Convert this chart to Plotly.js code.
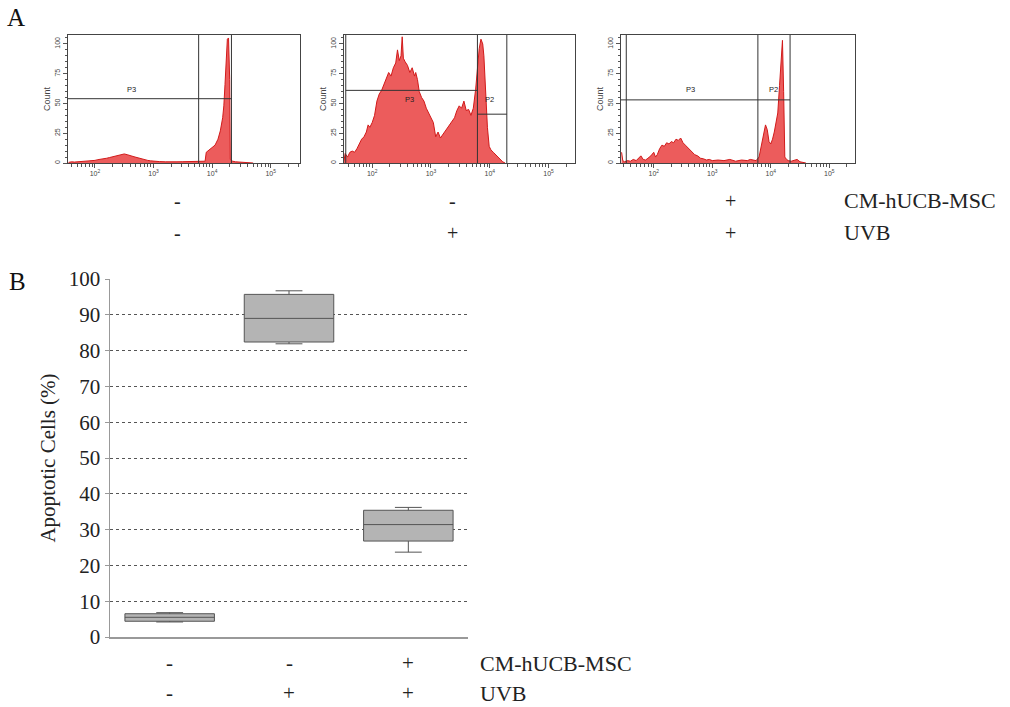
<!DOCTYPE html>
<html>
<head>
<meta charset="utf-8">
<script src="https://cdn.plot.ly/plotly-3.0.1.min.js"></script>
<style>html,body{margin:0;padding:0;background:#fff;}#chart{width:1010px;height:707px;}</style>
</head>
<body>
<div id="chart"></div>
<script>
// ---------- Panel A: flow-cytometry histograms (x = log10 fluorescence, y = count) ----------
const hist1X = [1.55,1.6,1.65,1.7,1.75,1.8,1.85,1.9,1.95,2.0,2.05,2.1,2.15,2.2,2.25,2.3,2.35,2.4,2.45,2.5,2.55,2.6,2.65,2.7,2.75,2.8,2.85,2.9,2.95,3.0,3.1,3.2,3.3,3.4,3.5,3.6,3.7,3.8,3.88,3.9,3.95,4.0,4.05,4.1,4.14,4.18,4.2,4.22,4.24,4.26,4.28,4.3,4.31,4.35,4.4,4.5,4.6,4.7];
const hist1Y = [0.5,1,0.8,1,1.2,1,1.5,1.3,2,2.2,2.8,3,3.5,4,4.6,5.2,5.5,6,6.6,7.6,7,6.5,5.5,4.8,4,3.2,3,2.2,1.8,1.5,1.2,1,1.3,1,1.1,1.2,1,1.3,1.5,9,11,13,15,20,27,38,48,66,90,104,105,70,3,1.5,1,0.8,0.5,0];

const hist2X = [1.52,1.54,1.58,1.62,1.66,1.7,1.74,1.78,1.82,1.86,1.9,1.93,1.96,2.0,2.04,2.08,2.12,2.16,2.2,2.24,2.28,2.32,2.36,2.4,2.43,2.46,2.49,2.51,2.53,2.56,2.6,2.64,2.68,2.72,2.74,2.77,2.8,2.84,2.88,2.92,2.96,3.0,3.04,3.08,3.12,3.16,3.2,3.24,3.28,3.32,3.36,3.4,3.44,3.48,3.52,3.56,3.6,3.64,3.68,3.72,3.76,3.79,3.82,3.85,3.88,3.9,3.93,3.96,3.99,4.02,4.06,4.1,4.14,4.18,4.22,4.26];
const hist2Y = [2,8,5,9,10,9,12,16,20,22,26,32,30,34,40,52,58,61,66,70,76,73,80,84,95,86,90,106,88,85,82,76,80,73,76,70,60,55,52,46,42,37,34,22,26,21,24,27,29,32,36,38,44,48,46,52,44,45,40,46,62,80,96,104,100,90,55,30,14,11,9,7,5,3,1,0];

const hist3X = [1.45,1.47,1.5,1.55,1.6,1.65,1.7,1.75,1.78,1.82,1.86,1.9,1.95,2.0,2.03,2.06,2.1,2.14,2.18,2.22,2.26,2.3,2.34,2.38,2.42,2.46,2.5,2.54,2.58,2.62,2.66,2.7,2.75,2.8,2.85,2.9,2.95,3.0,3.1,3.2,3.3,3.35,3.4,3.5,3.6,3.65,3.7,3.75,3.8,3.84,3.88,3.91,3.94,3.97,4.0,4.03,4.06,4.09,4.12,4.15,4.18,4.2,4.22,4.24,4.27,4.3,4.35,4.4,4.45,4.5,4.55,4.6];
const hist3Y = [9,2,1,2,1.5,3,2,5,6,3,2.5,4,6,9,5,7,12,15,14,17,16,18,17,20,19,21,17,15,13,11,9,7,6,4,3.5,2.5,3,2,2.5,2,3,2,1.5,2.5,2,3,2.5,2,5,14,25,32,28,18,16,20,26,33,42,65,92,103,60,5,3,2,1.5,2,3,1,0.5,0];

const histDecades = [2, 3, 4, 5];
const histDecadeLabels = ['10<sup>2</sup>', '10<sup>3</sup>', '10<sup>4</sup>', '10<sup>5</sup>'];
const countTicks = [0, 25, 50, 75, 100];

// gates (log10 positions / counts) per panel
const gateP3Left  = [1.54, 1.55, 1.53];
const gateP3Right = [3.77, 3.79, 3.78];
const gateP2Right = [4.33, 4.29, 4.33];
const gateP3Level = [54, 61, 53];
const gateP2Level = [null, 41, 53];
const labelP3Pos  = [[2.62, 62], [2.64, 53], [2.62, 62]];
const labelP2Pos  = [null, [4.0, 53], [4.05, 62]];

// treatment labels
const treatmentNames = ['CM-hUCB-MSC', 'UVB'];
const cmLabels  = ['-', '-', '+'];
const uvbLabels = ['-', '+', '+'];

// ---------- Panel B: apoptotic cells box plot ----------
const groupPos   = [0, 1, 2];
const boxLower   = [4.2, 81.9, 23.7];
const boxQ1      = [4.4, 82.4, 26.8];
const boxMedian  = [5.5, 89.0, 31.4];
const boxQ3      = [6.5, 95.7, 35.4];
const boxUpper   = [6.8, 96.7, 36.2];
const yTickVals  = [0,10,20,30,40,50,60,70,80,90,100];

// ---------- build ----------
const W = 1010, H = 707;
const px = v => v / W;
const py = v => 1 - v / H;

const histX = [hist1X, hist2X, hist3X];
const histY = [hist1Y, hist2Y, hist3Y];
const histRanges = [[1.54, 5.5], [1.52, 5.45], [1.44, 5.44]];
const histDomains = [[68, 300], [344, 575], [621, 855]];

const minorVals = [];
for (let n = 1; n <= 5; n++) for (let k = 2; k <= 9; k++) minorVals.push(Math.log10(k) + n);

const data = [];
const layout = {
  width: W, height: H,
  margin: {l: 0, r: 0, t: 0, b: 0},
  paper_bgcolor: '#fff', plot_bgcolor: '#fff',
  showlegend: false,
  shapes: [], annotations: []
};

const sans = 'Liberation Sans, Arial, sans-serif';
const serif = 'Liberation Serif, Times New Roman, serif';
const ann = (o) => Object.assign({showarrow: false, xanchor: 'center', yanchor: 'middle'}, o);

for (let i = 0; i < 3; i++) {
  const sx = i === 0 ? '' : String(i + 1);
  const xa = 'x' + sx, ya = 'y' + sx;
  data.push({
    type: 'scatter', mode: 'lines', x: histX[i], y: histY[i],
    xaxis: xa, yaxis: ya, fill: 'tozeroy',
    fillcolor: 'rgb(236,92,92)', line: {color: '#d21a1a', width: 1},
    hoverinfo: 'skip'
  });
  layout['xaxis' + sx] = {
    domain: [px(histDomains[i][0]), px(histDomains[i][1])],
    range: histRanges[i], anchor: ya, showgrid: false, zeroline: false,
    showline: true, mirror: true, linecolor: '#444', linewidth: 1,
    tickmode: 'array', tickvals: histDecades, ticktext: histDecadeLabels,
    ticks: 'outside', ticklen: 4, tickcolor: '#555', tickwidth: 1,
    tickfont: {family: sans, size: 7, color: '#444'},
    minor: {tickmode: 'array', tickvals: minorVals, ticks: 'outside', ticklen: 2.5, tickcolor: '#555', tickwidth: 1}
  };
  layout['yaxis' + sx] = {
    domain: [py(163), py(35)], range: [0, 107.5], anchor: xa,
    showgrid: false, zeroline: false, showline: true, mirror: true,
    linecolor: '#444', linewidth: 1,
    tickmode: 'array', tickvals: countTicks, tickangle: -90,
    ticks: 'outside', ticklen: 4, tickcolor: '#555',
    tickfont: {family: sans, size: 7, color: '#444'},
    minor: {dtick: 5, ticks: 'outside', ticklen: 2, tickcolor: '#555'},
    title: {text: 'Count', font: {family: sans, size: 9, color: '#444'}, standoff: 2}
  };
  const lineStyle = {color: '#333', width: 1};
  const verts = [gateP3Right[i], gateP2Right[i]];
  if (i > 0) verts.push(gateP3Left[i]);
  verts.forEach(v => layout.shapes.push({type: 'line', xref: xa, yref: ya + ' domain', x0: v, x1: v, y0: 0, y1: 1, line: lineStyle}));
  if (i === 1) {
    layout.shapes.push({type: 'line', xref: xa, yref: ya, x0: gateP3Left[i], x1: gateP3Right[i], y0: gateP3Level[i], y1: gateP3Level[i], line: lineStyle});
    layout.shapes.push({type: 'line', xref: xa, yref: ya, x0: gateP3Right[i], x1: gateP2Right[i], y0: gateP2Level[i], y1: gateP2Level[i], line: lineStyle});
  } else {
    layout.shapes.push({type: 'line', xref: xa, yref: ya, x0: histRanges[i][0], x1: gateP2Right[i], y0: gateP3Level[i], y1: gateP3Level[i], line: lineStyle});
  }
  const labFont = {family: sans, size: 7.5, color: '#222'};
  layout.annotations.push(ann({xref: xa, yref: ya, x: labelP3Pos[i][0], y: labelP3Pos[i][1], text: 'P3', font: labFont}));
  if (labelP2Pos[i]) {
    layout.annotations.push(ann({xref: xa, yref: ya, x: labelP2Pos[i][0], y: labelP2Pos[i][1], text: 'P2', font: labFont}));
  }
  layout.annotations.push(ann({xref: xa + ' domain', yref: 'paper', x: 0.47, y: py(201), text: cmLabels[i], font: {family: serif, size: 20, color: '#222'}}));
  layout.annotations.push(ann({xref: xa + ' domain', yref: 'paper', x: 0.47, y: py(233), text: uvbLabels[i], font: {family: serif, size: 20, color: '#222'}}));
}
layout.annotations.push(ann({xref: 'paper', yref: 'paper', x: px(842), y: py(201), xanchor: 'left', text: treatmentNames[0], font: {family: serif, size: 22, color: '#222'}}));
layout.annotations.push(ann({xref: 'paper', yref: 'paper', x: px(842), y: py(233), xanchor: 'left', text: treatmentNames[1], font: {family: serif, size: 22, color: '#222'}}));

// Panel B box plot
data.push({
  type: 'box', xaxis: 'x4', yaxis: 'y4', x: groupPos,
  q1: boxQ1, median: boxMedian, q3: boxQ3, lowerfence: boxLower, upperfence: boxUpper,
  width: 0.75, whiskerwidth: 0.3, fillcolor: 'rgb(180,180,180)',
  line: {color: '#555', width: 1}, hoverinfo: 'skip', boxpoints: false
});
layout.xaxis4 = {
  domain: [px(110), px(468)], range: [-0.5, 2.5], anchor: 'y4',
  showgrid: false, zeroline: false, showline: true, linecolor: '#999', linewidth: 1.5,
  showticklabels: false, ticks: ''
};
layout.yaxis4 = {
  domain: [py(637), py(279)], range: [0, 100], anchor: 'x4',
  tickmode: 'array', tickvals: yTickVals,
  showgrid: true, gridcolor: '#555', griddash: 'dot', gridwidth: 1,
  zeroline: false, showline: true, linecolor: '#999', linewidth: 1.5,
  ticks: 'outside', ticklen: 4, tickcolor: '#999',
  tickfont: {family: serif, size: 21, color: '#222'},
  title: {text: 'Apoptotic Cells (%)', font: {family: serif, size: 21, color: '#222'}, standoff: 7}
};
for (let i = 0; i < 3; i++) {
  layout.annotations.push(ann({xref: 'x4', yref: 'paper', x: groupPos[i], y: py(663), text: cmLabels[i], font: {family: serif, size: 21, color: '#222'}}));
  layout.annotations.push(ann({xref: 'x4', yref: 'paper', x: groupPos[i], y: py(693), text: uvbLabels[i], font: {family: serif, size: 21, color: '#222'}}));
}
layout.annotations.push(ann({xref: 'paper', yref: 'paper', x: px(478), y: py(663), xanchor: 'left', text: treatmentNames[0], font: {family: serif, size: 22, color: '#222'}}));
layout.annotations.push(ann({xref: 'paper', yref: 'paper', x: px(478), y: py(693), xanchor: 'left', text: treatmentNames[1], font: {family: serif, size: 22, color: '#222'}}));

// panel letters
layout.annotations.push(ann({xref: 'paper', yref: 'paper', x: px(16), y: py(18), text: 'A', font: {family: serif, size: 25, color: '#111'}}));
layout.annotations.push(ann({xref: 'paper', yref: 'paper', x: px(17), y: py(281), text: 'B', font: {family: serif, size: 25, color: '#111'}}));

Plotly.newPlot('chart', data, layout, {staticPlot: true, displayModeBar: false});
</script>
</body>
</html>
